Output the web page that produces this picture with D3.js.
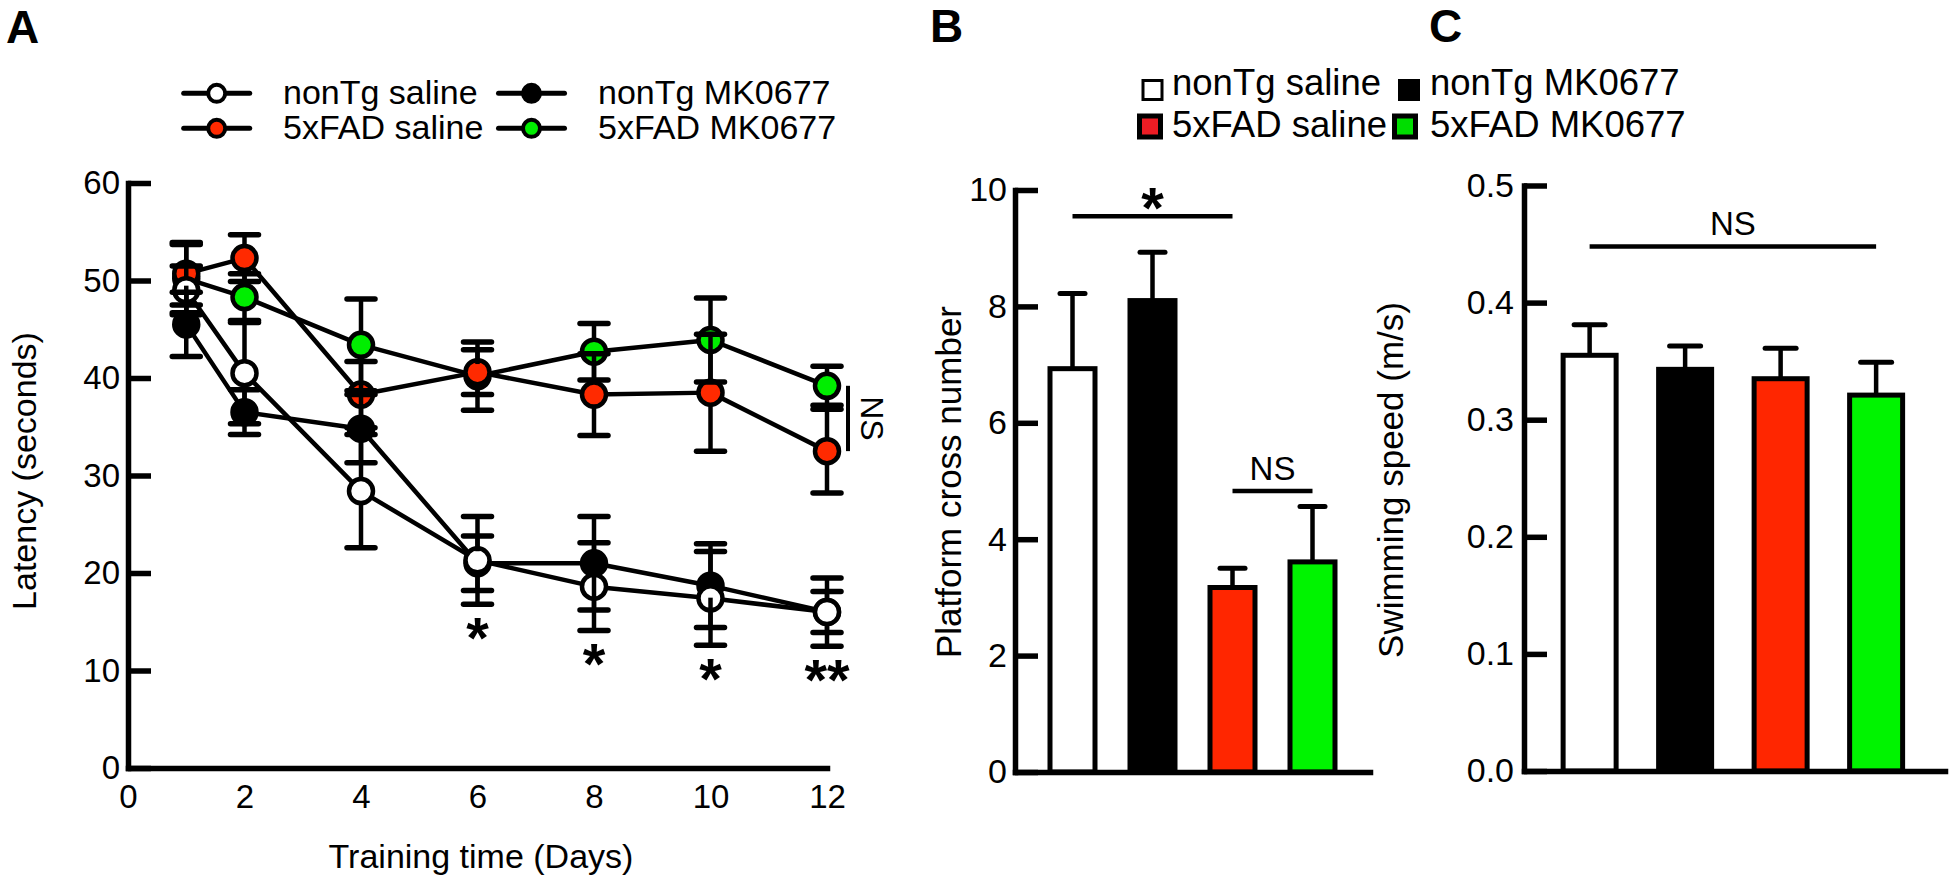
<!DOCTYPE html>
<html><head><meta charset="utf-8">
<script src="https://cdn.jsdelivr.net/npm/d3@7/dist/d3.min.js"></script>
<style>
body{margin:0;background:#fff;}
svg{display:block;}
</style></head><body>
<svg id="c" width="1950" height="883"></svg>
<script>
// ---------------- DATA ----------------
const groups = ["nonTg saline", "nonTg MK0677", "5xFAD saline", "5xFAD MK0677"];
const days = [1, 2, 4, 6, 8, 10, 12];
const latencyTicksX = [0, 2, 4, 6, 8, 10, 12];
const latencyTicksY = [0, 10, 20, 30, 40, 50, 60];

const nonTgSaline    = [49.0, 40.5, 28.4, 21.3, 18.6, 17.4, 16.0];
const nonTgSalineErr = [2.5, 5.2, 5.8, 4.5, 4.5, 4.8, 3.5];
const nonTgMK        = [45.5, 36.5, 34.8, 21.0, 21.0, 18.7, 16.0];
const nonTgMKErr     = [3.3, 2.3, 3.5, 2.8, 4.8, 4.3, 2.1];
const fadSaline      = [50.7, 52.3, 38.3, 40.6, 38.3, 38.5, 32.5];
const fadSalineErr   = [3.2, 2.4, 3.4, 2.3, 4.2, 6.0, 4.3];
const fadMK          = [50.2, 48.3, 43.4, 40.2, 42.7, 43.9, 39.2];
const fadMKErr       = [3.5, 2.4, 4.7, 3.5, 2.9, 4.3, 2.0];

const sigDays  = [6, 8, 10, 12];
const sigMarks = ["*", "*", "*", "**"];

const crossTicks = [0, 2, 4, 6, 8, 10];
const crossMean  = [6.93, 8.10, 3.17, 3.61];
const crossErr   = [1.29, 0.83, 0.33, 0.95];
const crossSig   = [
  {from: "nonTg saline", to: "5xFAD saline", level: 9.55, label: "*"},
  {from: "5xFAD saline", to: "5xFAD MK0677", level: 4.83, label: "NS"}
];

const speedTicks = [0, 0.1, 0.2, 0.3, 0.4, 0.5];
const speedMean  = [0.355, 0.343, 0.335, 0.321];
const speedErr   = [0.026, 0.020, 0.026, 0.028];
const speedSig   = [{from: "nonTg saline", to: "5xFAD MK0677", level: 0.448, label: "NS"}];

// ---------------- STYLE ----------------
const FONT = '"Liberation Sans", Arial, Helvetica, sans-serif';
const RED = "#ff2a00", GREEN = "#00ee00";
const BAR_RED = "#ff2600", BAR_GREEN = "#00f400";
const LEG_RED = "#ee1c24", LEG_GREEN = "#00dd00";
const fills = {"nonTg saline": "#ffffff", "nonTg MK0677": "#000000", "5xFAD saline": RED, "5xFAD MK0677": GREEN};
const barFills = {"nonTg saline": "#ffffff", "nonTg MK0677": "#000000", "5xFAD saline": BAR_RED, "5xFAD MK0677": BAR_GREEN};
const STAR_FS = 58, STAR_C = 27; // asterisk font size, glyph-centre height above baseline

const svg = d3.select("#c");

function styleAxis(g, fs) {
  g.attr("font-size", null).attr("font-family", null);
  g.select(".domain").attr("stroke", "#000").attr("stroke-width", 5.5).attr("stroke-linecap", "square");
  g.selectAll(".tick line").attr("stroke", "#000").attr("stroke-width", 5.5);
  g.selectAll(".tick text").attr("font-size", fs).attr("font-family", FONT).attr("fill", "#000");
}
function txt(g, x, y, s, fs, opts = {}) {
  const t = g.append("text").attr("x", x).attr("y", y).text(s)
    .attr("font-family", FONT).attr("font-size", fs).attr("fill", "#000");
  if (opts.anchor) t.attr("text-anchor", opts.anchor);
  if (opts.weight) t.attr("font-weight", opts.weight);
  if (opts.rotate !== undefined) t.attr("transform", `rotate(${opts.rotate},${x},${y})`);
  return t;
}

// panel letters
txt(svg, 6, 43, "A", 46, {weight: "bold"});
txt(svg, 930, 42, "B", 46, {weight: "bold"});
txt(svg, 1429, 42, "C", 46, {weight: "bold"});

// ================= PANEL A =================
const xA = d3.scaleLinear().domain([0, 12]).range([128, 827]);
const yA = d3.scaleLinear().domain([0, 60]).range([768, 183]);
const gA = svg.append("g");

gA.append("g").attr("transform", `translate(0,${yA(0)})`)
  .call(d3.axisBottom(xA).tickValues(latencyTicksX).tickSize(0).tickPadding(17).tickFormat(d3.format("d")))
  .call(g => styleAxis(g, 33));
gA.append("g").attr("transform", `translate(${xA(0)},0)`)
  .call(d3.axisLeft(yA).tickValues(latencyTicksY).tickSizeInner(-23).tickSizeOuter(0).tickPadding(8).tickFormat(d3.format("d")))
  .call(g => styleAxis(g, 33));

txt(gA, 36, 471, "Latency (seconds)", 34, {anchor: "middle", rotate: -90});
txt(gA, 481, 868, "Training time (Days)", 34, {anchor: "middle"});

const series = [
  {name: groups[1], vals: nonTgMK, errs: nonTgMKErr},
  {name: groups[3], vals: fadMK, errs: fadMKErr},
  {name: groups[2], vals: fadSaline, errs: fadSalineErr},
  {name: groups[0], vals: nonTgSaline, errs: nonTgSalineErr}
];
const R = 12;
const lineGen = d3.line().x((d, i) => xA(days[i])).y(d => yA(d));
series.forEach(s => {
  gA.append("path").attr("d", lineGen(s.vals)).attr("fill", "none")
    .attr("stroke", "#000").attr("stroke-width", 4.5).attr("stroke-linejoin", "round");
});
series.forEach(s => {
  gA.selectAll(null).data(s.vals).join("circle")
    .attr("cx", (d, i) => xA(days[i])).attr("cy", d => yA(d)).attr("r", R)
    .attr("fill", fills[s.name]).attr("stroke", "#000").attr("stroke-width", 4.5);
});
series.forEach(s => {
  s.vals.forEach((v, i) => {
    const cx = xA(days[i]), cy = yA(v);
    const yt = yA(v + s.errs[i]), yb = yA(v - s.errs[i]);
    const eg = gA.append("g").attr("stroke", "#000");
    eg.append("line").attr("x1", cx).attr("x2", cx).attr("y1", cy - R).attr("y2", yt).attr("stroke-width", 4.5);
    eg.append("line").attr("x1", cx).attr("x2", cx).attr("y1", cy + R).attr("y2", yb).attr("stroke-width", 4.5);
    eg.append("line").attr("x1", cx - 14).attr("x2", cx + 14).attr("y1", yt).attr("y2", yt).attr("stroke-width", 5.5).attr("stroke-linecap", "round");
    eg.append("line").attr("x1", cx - 14).attr("x2", cx + 14).attr("y1", yb).attr("y2", yb).attr("stroke-width", 5.5).attr("stroke-linecap", "round");
  });
});
// significance asterisks under lowest error bar
sigDays.forEach((d, k) => {
  const i = days.indexOf(d);
  const low = d3.min(series, s => s.vals[i] - s.errs[i]);
  txt(gA, xA(d), yA(low) + 26.5 + STAR_C, sigMarks[k], STAR_FS, {anchor: "middle", weight: "bold"});
});
// NS bracket at day 12 between 5xFAD groups
{
  const i = days.indexOf(12);
  const bx = xA(12) + 21;
  gA.append("line").attr("x1", bx).attr("x2", bx).attr("y1", yA(fadMK[i])).attr("y2", yA(fadSaline[i]))
    .attr("stroke", "#000").attr("stroke-width", 4);
  txt(gA, bx + 13, (yA(fadMK[i]) + yA(fadSaline[i])) / 2, "NS", 32, {anchor: "middle", rotate: 90});
}
// legend A
{
  const pos = [[216.7, 93.3, 283, 103.5], [531.5, 93.3, 598, 103.5], [216.7, 128.3, 283, 138.5], [531.5, 128.3, 598, 138.5]];
  groups.forEach((g, k) => {
    const [mx, my, tx, ty] = pos[k];
    gA.append("line").attr("x1", mx - 33).attr("x2", mx + 33).attr("y1", my).attr("y2", my)
      .attr("stroke", "#000").attr("stroke-width", 5).attr("stroke-linecap", "round");
    gA.append("circle").attr("cx", mx).attr("cy", my).attr("r", 8.5)
      .attr("fill", fills[g]).attr("stroke", "#000").attr("stroke-width", 4);
    txt(gA, tx, ty, g, 34);
  });
}

// ================= PANEL B =================
const xB = d3.scaleBand().domain(groups).range([1015, 1370]).paddingInner(0.4375).paddingOuter(0.4375).align(0.5);
const yB = d3.scaleLinear().domain([0, 10]).range([772, 190]);
const gB = svg.append("g");

function barPanel(g, xs, ys, means, errs, capW) {
  groups.forEach((gr, i) => {
    const cx = xs(gr) + xs.bandwidth() / 2;
    g.append("line").attr("x1", cx).attr("x2", cx).attr("y1", ys(means[i])).attr("y2", ys(means[i] + errs[i]))
      .attr("stroke", "#000").attr("stroke-width", 4.5);
    g.append("line").attr("x1", cx - capW / 2).attr("x2", cx + capW / 2).attr("y1", ys(means[i] + errs[i])).attr("y2", ys(means[i] + errs[i]))
      .attr("stroke", "#000").attr("stroke-width", 5).attr("stroke-linecap", "round");
  });
  g.selectAll(null).data(groups).join("rect")
    .attr("x", d => xs(d)).attr("width", xs.bandwidth())
    .attr("y", (d, i) => ys(means[i])).attr("height", (d, i) => ys(0) - ys(means[i]))
    .attr("fill", d => barFills[d]).attr("stroke", "#000").attr("stroke-width", 5);
}
function sigPanel(g, xs, ys, sigs) {
  sigs.forEach(s => {
    const x1 = xs(s.from) + xs.bandwidth() / 2, x2 = xs(s.to) + xs.bandwidth() / 2;
    const y = ys(s.level);
    g.append("line").attr("x1", x1).attr("x2", x2).attr("y1", y).attr("y2", y)
      .attr("stroke", "#000").attr("stroke-width", 4.5);
    if (s.label === "*") txt(g, (x1 + x2) / 2, y - 15 + STAR_C, "*", STAR_FS, {anchor: "middle", weight: "bold"});
    else txt(g, (x1 + x2) / 2, y - 11, s.label, 33, {anchor: "middle"});
  });
}

barPanel(gB, xB, yB, crossMean, crossErr, 25);
gB.append("g").attr("transform", `translate(0,${yB(0)})`)
  .call(d3.axisBottom(xB).tickValues([]).tickSizeOuter(0))
  .call(g => styleAxis(g, 34));
gB.append("g").attr("transform", `translate(1015,0)`)
  .call(d3.axisLeft(yB).tickValues(crossTicks).tickSizeInner(-23).tickSizeOuter(0).tickPadding(8).tickFormat(d3.format("d")))
  .call(g => styleAxis(g, 34));
sigPanel(gB, xB, yB, crossSig);
txt(gB, 961, 482, "Platform cross number", 35, {anchor: "middle", rotate: -90});

// legend B
{
  const sq = [[1152.5, 90, 19, 3], [1409, 90, 19, 3], [1150, 126.5, 21, 5], [1405, 126.5, 21, 5]];
  const lfill = {"nonTg saline": "#fff", "nonTg MK0677": "#000", "5xFAD saline": LEG_RED, "5xFAD MK0677": LEG_GREEN};
  const tpos = [[1172, 95], [1430, 95], [1172, 137.3], [1430, 137.3]];
  groups.forEach((g, k) => {
    const [cx, cy, s, sw] = sq[k];
    gB.append("rect").attr("x", cx - s / 2).attr("y", cy - s / 2).attr("width", s).attr("height", s)
      .attr("fill", lfill[g]).attr("stroke", "#000").attr("stroke-width", sw);
    txt(gB, tpos[k][0], tpos[k][1], g, 36.5);
  });
}

// ================= PANEL C =================
const xC = d3.scaleBand().domain(groups).range([1524, 1945]).paddingInner(0.445).paddingOuter(0.4267).align(0.48);
const yC = d3.scaleLinear().domain([0, 0.5]).range([771, 185.5]);
const gC = svg.append("g");
barPanel(gC, xC, yC, speedMean, speedErr, 31);
gC.append("g").attr("transform", `translate(0,${yC(0)})`)
  .call(d3.axisBottom(xC).tickValues([]).tickSizeOuter(0))
  .call(g => styleAxis(g, 34));
gC.append("g").attr("transform", `translate(1524,0)`)
  .call(d3.axisLeft(yC).tickValues(speedTicks).tickSizeInner(-23).tickSizeOuter(0).tickPadding(10).tickFormat(d3.format(".1f")))
  .call(g => styleAxis(g, 34));
sigPanel(gC, xC, yC, speedSig);
txt(gC, 1403, 480, "Swimming speed (m/s)", 35, {anchor: "middle", rotate: -90});
</script>
</body></html>
